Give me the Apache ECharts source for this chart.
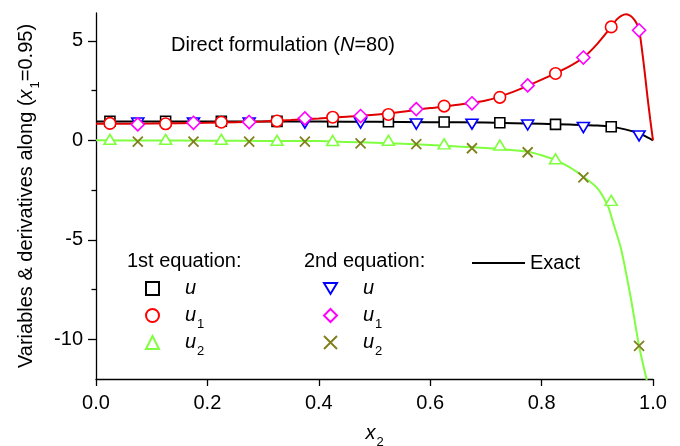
<!DOCTYPE html>
<html><head><meta charset="utf-8">
<script src="https://cdn.jsdelivr.net/npm/echarts@6/dist/echarts.min.js"></script>
<style>html,body{margin:0;padding:0;background:#fff}#c{width:680px;height:446px}</style>
</head><body><div id="c"></div>
<script>
// ---- data ----
const xEq1 = [0.025,0.125,0.225,0.325,0.425,0.525,0.625,0.725,0.825,0.925];
const xEq2 = [0.075,0.175,0.275,0.375,0.475,0.575,0.675,0.775,0.875,0.975];
const uEq1  = [0.96,0.96,0.96,0.95,0.94,0.93,0.92,0.88,0.80,0.68];
const u1Eq1 = [0.85,0.83,0.91,0.97,1.16,1.30,1.72,2.16,3.36,5.70];
const u2Eq1 = [0.05,0.05,0.05,0.0,-0.01,0.0,-0.18,-0.24,-0.93,-3.02];
const uEq2  = [0.87,0.87,0.87,0.86,0.87,0.82,0.81,0.77,0.64,0.22];
const u1Eq2 = [0.80,0.88,0.92,1.10,1.22,1.57,1.86,2.76,4.16,5.53];
const u2Eq2 = [-0.07,-0.07,-0.07,-0.07,-0.15,-0.19,-0.40,-0.60,-1.86,-10.34];

const exactUx = [0,0.1,0.2,0.3,0.4,0.5,0.6,0.7,0.8,0.85,0.9,0.925,0.95,0.975,0.99,1.0];
const exactU  = [0.95,0.95,0.95,0.95,0.94,0.93,0.91,0.89,0.83,0.79,0.74,0.68,0.55,0.35,0.15,0];
const exactU1x = [0,0.1,0.2,0.3,0.35,0.4,0.45,0.5,0.55,0.6,0.65,0.7,0.75,0.8,0.85,0.875,0.9,0.925,0.935,0.943,0.952,0.96,0.967,0.972,0.976,0.98,0.985,0.99,0.995,1.0];
const exactU1  = [0.83,0.84,0.88,0.95,1.02,1.10,1.19,1.28,1.43,1.62,1.79,2.0,2.45,3.05,3.72,4.16,4.85,5.70,6.08,6.26,6.34,6.25,6.04,5.79,5.40,4.6,3.45,2.2,1.05,0];
const exactU2x = [0,0.1,0.2,0.3,0.4,0.45,0.5,0.55,0.6,0.65,0.7,0.75,0.775,0.8,0.825,0.85,0.875,0.9,0.919,0.928,0.943,0.96,0.975,0.988,1.0];
const exactU2  = [0.0,-0.01,-0.02,-0.03,-0.04,-0.08,-0.12,-0.17,-0.23,-0.31,-0.39,-0.5,-0.57,-0.75,-1.0,-1.35,-1.83,-2.4,-3.3,-4.1,-5.5,-7.9,-10.34,-11.96,-13.3];

const yMajorTicks = [-10,-5,0,5];
const yMinorTicks = [-7.5,-2.5,2.5];
const legendLabels = {
  'u·1':'{g| }{i|u}{s| }', 'u1·1':'{g| }{i|u}{s|1}', 'u2·1':'{g| }{i|u}{s|2}',
  'u·2':'{g| }{i|u}{s| }', 'u1·2':'{g| }{i|u}{s|1}', 'u2·2':'{g| }{i|u}{s|2}',
  'Exact':'Exact'
};

const FONT = 'Liberation Sans, Arial, sans-serif';
const pairs = (xs, ys) => xs.map((x, i) => [x, ys[i]]);
const richBase = {
  t:{fontFamily:FONT,fontSize:20,lineHeight:20,color:'#000'},
  i:{fontFamily:FONT,fontSize:20,lineHeight:20,fontStyle:'italic',color:'#000'},
  s:{fontFamily:FONT,fontSize:13,lineHeight:2,padding:[18,0,0,1],color:'#000'},
  g:{width:21,fontSize:20,lineHeight:20}
};

const chart = echarts.init(document.getElementById('c'), null, {renderer:'canvas'});

function lineSeries(name, xs, ys, color){
  return {name, type:'line', data:pairs(xs, ys), showSymbol:false, symbol:'none',
    smooth:0.25, lineStyle:{color, width:2}, itemStyle:{color}, z:2, silent:true};
}
function markSeries(name, xs, ys, symbol, size, color, extra){
  return Object.assign({name, type:'scatter', data:pairs(xs, ys), symbol, symbolSize:size,
    itemStyle:{color:'#fff', borderColor:color, borderWidth:1.6, opacity:1}, z:5, silent:true}, extra||{});
}
const CROSS = 'path://M0,0L10,10M10,0L0,10';
const TRI_DOWN = 'path://M0,0L12,0L6,10Z';

const option = {
  animation:false,
  backgroundColor:'#fff',
  textStyle:{fontFamily:FONT},
  title:[
    {text:'Direct formulation ({n|N}=80)', left:171, top:34, padding:0,
      textStyle:{fontFamily:FONT,fontSize:20,fontWeight:'normal',color:'#000',lineHeight:22,
        rich:{n:{fontFamily:FONT,fontSize:20,fontStyle:'italic',color:'#000',lineHeight:22}}}},
    {text:'1st equation:', left:127, top:250, padding:0,
      textStyle:{fontFamily:FONT,fontSize:20,fontWeight:'normal',color:'#000',lineHeight:22}},
    {text:'2nd equation:', left:304, top:250, padding:0,
      textStyle:{fontFamily:FONT,fontSize:20,fontWeight:'normal',color:'#000',lineHeight:22}}
  ],
  grid:{left:96, right:27, top:13, bottom:67, containLabel:false, outerBoundsMode:'none'},
  legend:[
    {data:['u·1','u1·1','u2·1'], orient:'vertical', left:145, top:273, padding:0,
      itemWidth:13, itemHeight:13, itemGap:-4, selectedMode:false,
      formatter:n=>legendLabels[n], textStyle:{color:'#000',fontFamily:FONT,fontSize:20,rich:richBase}},
    {data:['u·2','u1·2','u2·2'], orient:'vertical', left:323, top:273, padding:0,
      itemWidth:13, itemHeight:13, itemGap:-4, selectedMode:false,
      formatter:n=>legendLabels[n], textStyle:{color:'#000',fontFamily:FONT,fontSize:20,rich:richBase}},
    {data:[{name:'Exact', icon:'rect', itemStyle:{color:'#000'}}], orient:'horizontal', left:472, top:253, padding:0,
      itemWidth:53, itemHeight:2, selectedMode:false,
      formatter:n=>legendLabels[n], textStyle:{color:'#000',fontFamily:FONT,fontSize:20,lineHeight:20}}
  ],
  xAxis:{type:'value', min:0, max:1, interval:0.2,
    axisLine:{show:true, onZero:false, lineStyle:{color:'#000', width:1.3}},
    axisTick:{show:true, inside:false, length:7, lineStyle:{color:'#000', width:1.3}},
    axisLabel:{fontFamily:FONT, fontSize:20, color:'#000', margin:14, formatter:v=>v.toFixed(1)},
    splitLine:{show:false},
    name:'{i|x}{s|2}', nameLocation:'middle', nameGap:38,
    nameTextStyle:{rich:richBase}
  },
  yAxis:[
    {type:'value', min:-12, max:6.4,
      axisLine:{show:true, onZero:false, lineStyle:{color:'#000', width:1.3}},
      axisTick:{show:true, inside:false, length:8, customValues:yMajorTicks, lineStyle:{color:'#000', width:1.3}},
      axisLabel:{fontFamily:FONT, fontSize:20, color:'#000', margin:13, customValues:yMajorTicks},
      splitLine:{show:false},
      name:'{t|Variables & derivatives along (}{i|x}{s|1}{t|=0.95)}', nameLocation:'middle', nameGap:60,
      nameTextStyle:{rich:richBase}
    },
    {type:'value', min:-12, max:6.4, position:'left',
      axisLine:{show:false},
      axisTick:{show:true, inside:false, length:4.5, customValues:yMinorTicks, lineStyle:{color:'#000', width:1.3}},
      axisLabel:{show:false},
      splitLine:{show:false}
    }
  ],
  series:[
    lineSeries('Exact', exactUx, exactU, '#000000'),
    lineSeries('Exact u1', exactU1x, exactU1, '#e00000'),
    lineSeries('Exact u2', exactU2x, exactU2, '#80ff40'),
    markSeries('u·1', xEq1, uEq1, 'rect', 10, '#000000'),
    markSeries('u1·1', xEq1, u1Eq1, 'circle', 11.5, '#ff0000'),
    markSeries('u2·1', xEq1, u2Eq1, 'triangle', [12,10], '#80ff40'),
    markSeries('u·2', xEq2, uEq2, TRI_DOWN, [12,10], '#0000ff'),
    markSeries('u1·2', xEq2, u1Eq2, 'diamond', 13, '#ff00ff'),
    markSeries('u2·2', xEq2, u2Eq2, CROSS, 10, '#808020',
      {itemStyle:{color:'#808020', borderColor:'#808020', borderWidth:1.8, opacity:1}})
  ]
};
chart.setOption(option);
</script>
</body></html>
